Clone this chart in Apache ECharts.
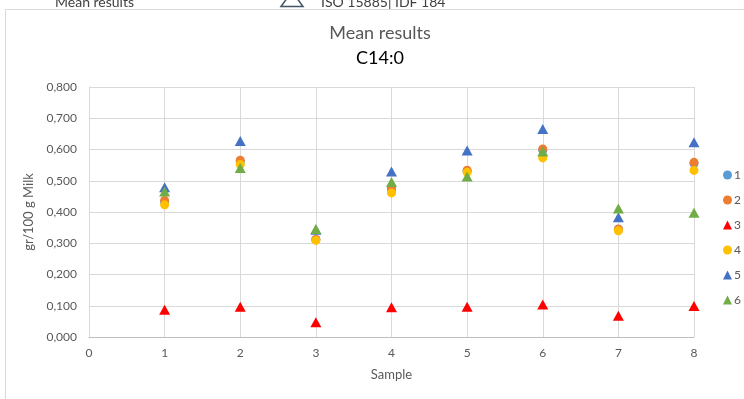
<!DOCTYPE html>
<html><head><meta charset="utf-8">
<script src="https://cdn.jsdelivr.net/npm/echarts@6/dist/echarts.min.js"></script>
<style>html,body{margin:0;padding:0;background:#fff}#c{width:744px;height:399px}</style>
</head><body><div id="c"></div>
<script>
var seriesNames = ['1','2','3','4','5','6'];
var samples = [1,2,3,4,5,6,7,8];
var s1 = [0.432, 0.560, 0.312, 0.472, 0.531, 0.598, 0.344, 0.555];
var s2 = [0.437, 0.566, 0.312, 0.477, 0.534, 0.602, 0.346, 0.559];
var s3 = [0.087, 0.097, 0.047, 0.095, 0.097, 0.104, 0.068, 0.099];
var s4 = [0.423, 0.552, 0.309, 0.461, 0.527, 0.573, 0.340, 0.533];
var s5 = [0.479, 0.627, 0.343, 0.530, 0.597, 0.666, 0.383, 0.623];
var s6 = [0.466, 0.541, 0.346, 0.496, 0.514, 0.594, 0.411, 0.398];
var yTicks = [0,0.1,0.2,0.3,0.4,0.5,0.6,0.7,0.8];
var allValues = [s1,s2,s3,s4,s5,s6];
var colors = ['#5B9BD5','#ED7D31','#FF0000','#FFC000','#4472C4','#70AD47'];
var symbols = ['circle','circle','triangle','circle','triangle','triangle'];
var FONT = 'Lato';

var chart = echarts.init(document.getElementById('c'), null, {renderer:'canvas'});
var series = seriesNames.map(function(n,i){
  return {
    name: n, type: 'scatter',
    symbol: symbols[i],
    symbolSize: symbols[i]==='circle' ? 9 : [11,10],
    itemStyle: {color: colors[i], opacity: 1},
    data: samples.map(function(x,j){ return [x, allValues[i][j]]; }),
    z: 2+i
  };
});
chart.setOption({
  animation: false,
  textStyle: {fontFamily: FONT},
  graphic: [
    {type:'rect', shape:{x:5.5,y:9.5,width:900,height:600}, style:{fill:'none', stroke:'#D9D9D9', lineWidth:1}, z:-1},
    {type:'text', x:55, y:2, style:{text:'Mean results', font:'14px '+FONT, fill:'#404040', verticalAlign:'middle', align:'left'}},
    {type:'polygon', shape:{points:[[281,6.5],[292,-8.5],[303,6.5]]}, style:{fill:'none', stroke:'#44546A', lineWidth:1.5}},
    {type:'text', x:321, y:2, style:{text:'ISO 15885| IDF 184', font:'14px '+FONT, fill:'#404040', verticalAlign:'middle', align:'left'}},
    {type:'text', x:380, y:33, style:{text:'Mean results', font:'18px '+FONT, fill:'#595959', verticalAlign:'middle', align:'center'}},
    {type:'text', x:380, y:58.5, style:{text:'C14:0', font:'18px '+FONT, fill:'#000000', verticalAlign:'middle', align:'center'}}
  ],
  legend: {
    orient: 'vertical', left: 718, top: 164,
    itemWidth: 9, itemHeight: 9, itemGap: 13,
    textStyle: {fontFamily: FONT, fontSize: 12, color:'#595959', padding:[0,0,0,-3]},
    data: seriesNames.map(function(n,i){ return {name:n, icon:symbols[i]}; })
  },
  grid: {left: 89, right: 50, top: 87, bottom: 62, containLabel: false},
  xAxis: {
    type: 'value', min: 0, max: 8, interval: 1,
    name: 'Sample', nameLocation: 'middle', nameGap: 31,
    nameTextStyle: {fontFamily: FONT, fontSize: 13, color:'#595959'},
    axisLine: {show: true, lineStyle: {color:'#BFBFBF', width:1}},
    axisTick: {show: false},
    axisLabel: {fontFamily: FONT, fontSize: 12, color:'#595959', margin: 10},
    splitLine: {show: true, lineStyle: {color:'#D9D9D9', width:1}}
  },
  yAxis: {
    type: 'value', min: 0, max: 0.8, interval: 0.1,
    name: 'gr/100 g Milk', nameLocation: 'middle', nameGap: 54, nameRotate: 90,
    nameTextStyle: {fontFamily: FONT, fontSize: 13, color:'#595959'},
    axisLine: {show: true, lineStyle: {color:'#D9D9D9', width:1}},
    axisTick: {show: false},
    axisLabel: {fontFamily: FONT, fontSize: 12, color:'#595959', margin: 12,
      formatter: function(v){ return v.toFixed(3).replace('.', ','); }},
    splitLine: {show: true, lineStyle: {color:'#D9D9D9', width:1}}
  },
  series: series
});
</script></body></html>
